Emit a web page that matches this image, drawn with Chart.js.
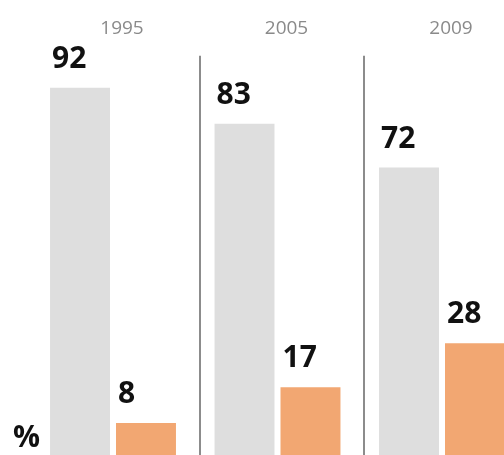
<!DOCTYPE html>
<html>
<head>
<meta charset="utf-8">
<script src="https://cdn.jsdelivr.net/npm/chart.js@4"></script>
<style>
    html, body { margin: 0; padding: 0; background: #fff; overflow: hidden; }
    #wrap { width: 504px; height: 455px; overflow: hidden; }
</style>
</head>
<body>
<div id="wrap">
    <canvas id="grafico" width="560" height="455"></canvas>
</div>
<script>
// dados
const anos = ["1995", "2005", "2009"];
const valoresCinza = [92, 83, 72];
const valoresLaranja = [8, 17, 28];
const unidade = "%";

// rótulos em cima das barras + o "%"
const rotulos = {
    id: "rotulos",
    afterDatasetsDraw(chart) {
        const ctx = chart.ctx;
        ctx.save();
        ctx.font = "bold 30px 'Open Sans'";
        ctx.fillStyle = "#111";
        ctx.textAlign = "left";
        ctx.textBaseline = "alphabetic";
        chart.data.datasets.forEach((ds, i) => {
            chart.getDatasetMeta(i).data.forEach((bar, j) => {
                ctx.fillText(ds.data[j], bar.x - bar.width / 2 + 2, bar.y - 20);
            });
        });
        ctx.fillText(unidade, 13, 447);
        ctx.restore();
    }
};

new Chart(document.getElementById("grafico"), {
    type: "bar",
    data: {
        labels: anos,
        datasets: [{
            data: valoresCinza,
            backgroundColor: "#dedede",
            borderWidth: 0,
            categoryPercentage: 0.802,
            barPercentage: 0.909
        }, {
            data: valoresLaranja,
            backgroundColor: "#f2a772",
            borderWidth: 0,
            categoryPercentage: 0.802,
            barPercentage: 0.909
        }]
    },
    options: {
        responsive: false,
        animation: false,
        layout: {
            padding: { left: 30.75, right: 35.75, top: 1, bottom: 0 }
        },
        plugins: {
            legend: { display: false },
            tooltip: { enabled: false }
        },
        scales: {
            x: {
                position: "top",
                grid: { display: false, drawTicks: false },
                border: { display: false },
                ticks: {
                    padding: 16,
                    labelOffset: 9,
                    color: "#8a8a8a",
                    font: { family: "'Open Sans'", size: 19 }
                }
            },
            // linhas separadoras entre os anos
            divisor: {
                type: "linear",
                position: "bottom",
                offset: false,
                min: -0.032,
                max: 2.977,
                ticks: { display: false, stepSize: 0.5 },
                grid: {
                    offset: false,
                    color: (c) => (c.tick && (c.tick.value === 1 || c.tick.value === 2)) ? "#8c8c8c" : "rgba(0,0,0,0)",
                    lineWidth: 2,
                    drawTicks: false
                },
                border: { display: false }
            },
            y: {
                display: false,
                min: 0,
                max: 100
            }
        }
    },
    plugins: [rotulos]
});
</script>
</body>
</html>
